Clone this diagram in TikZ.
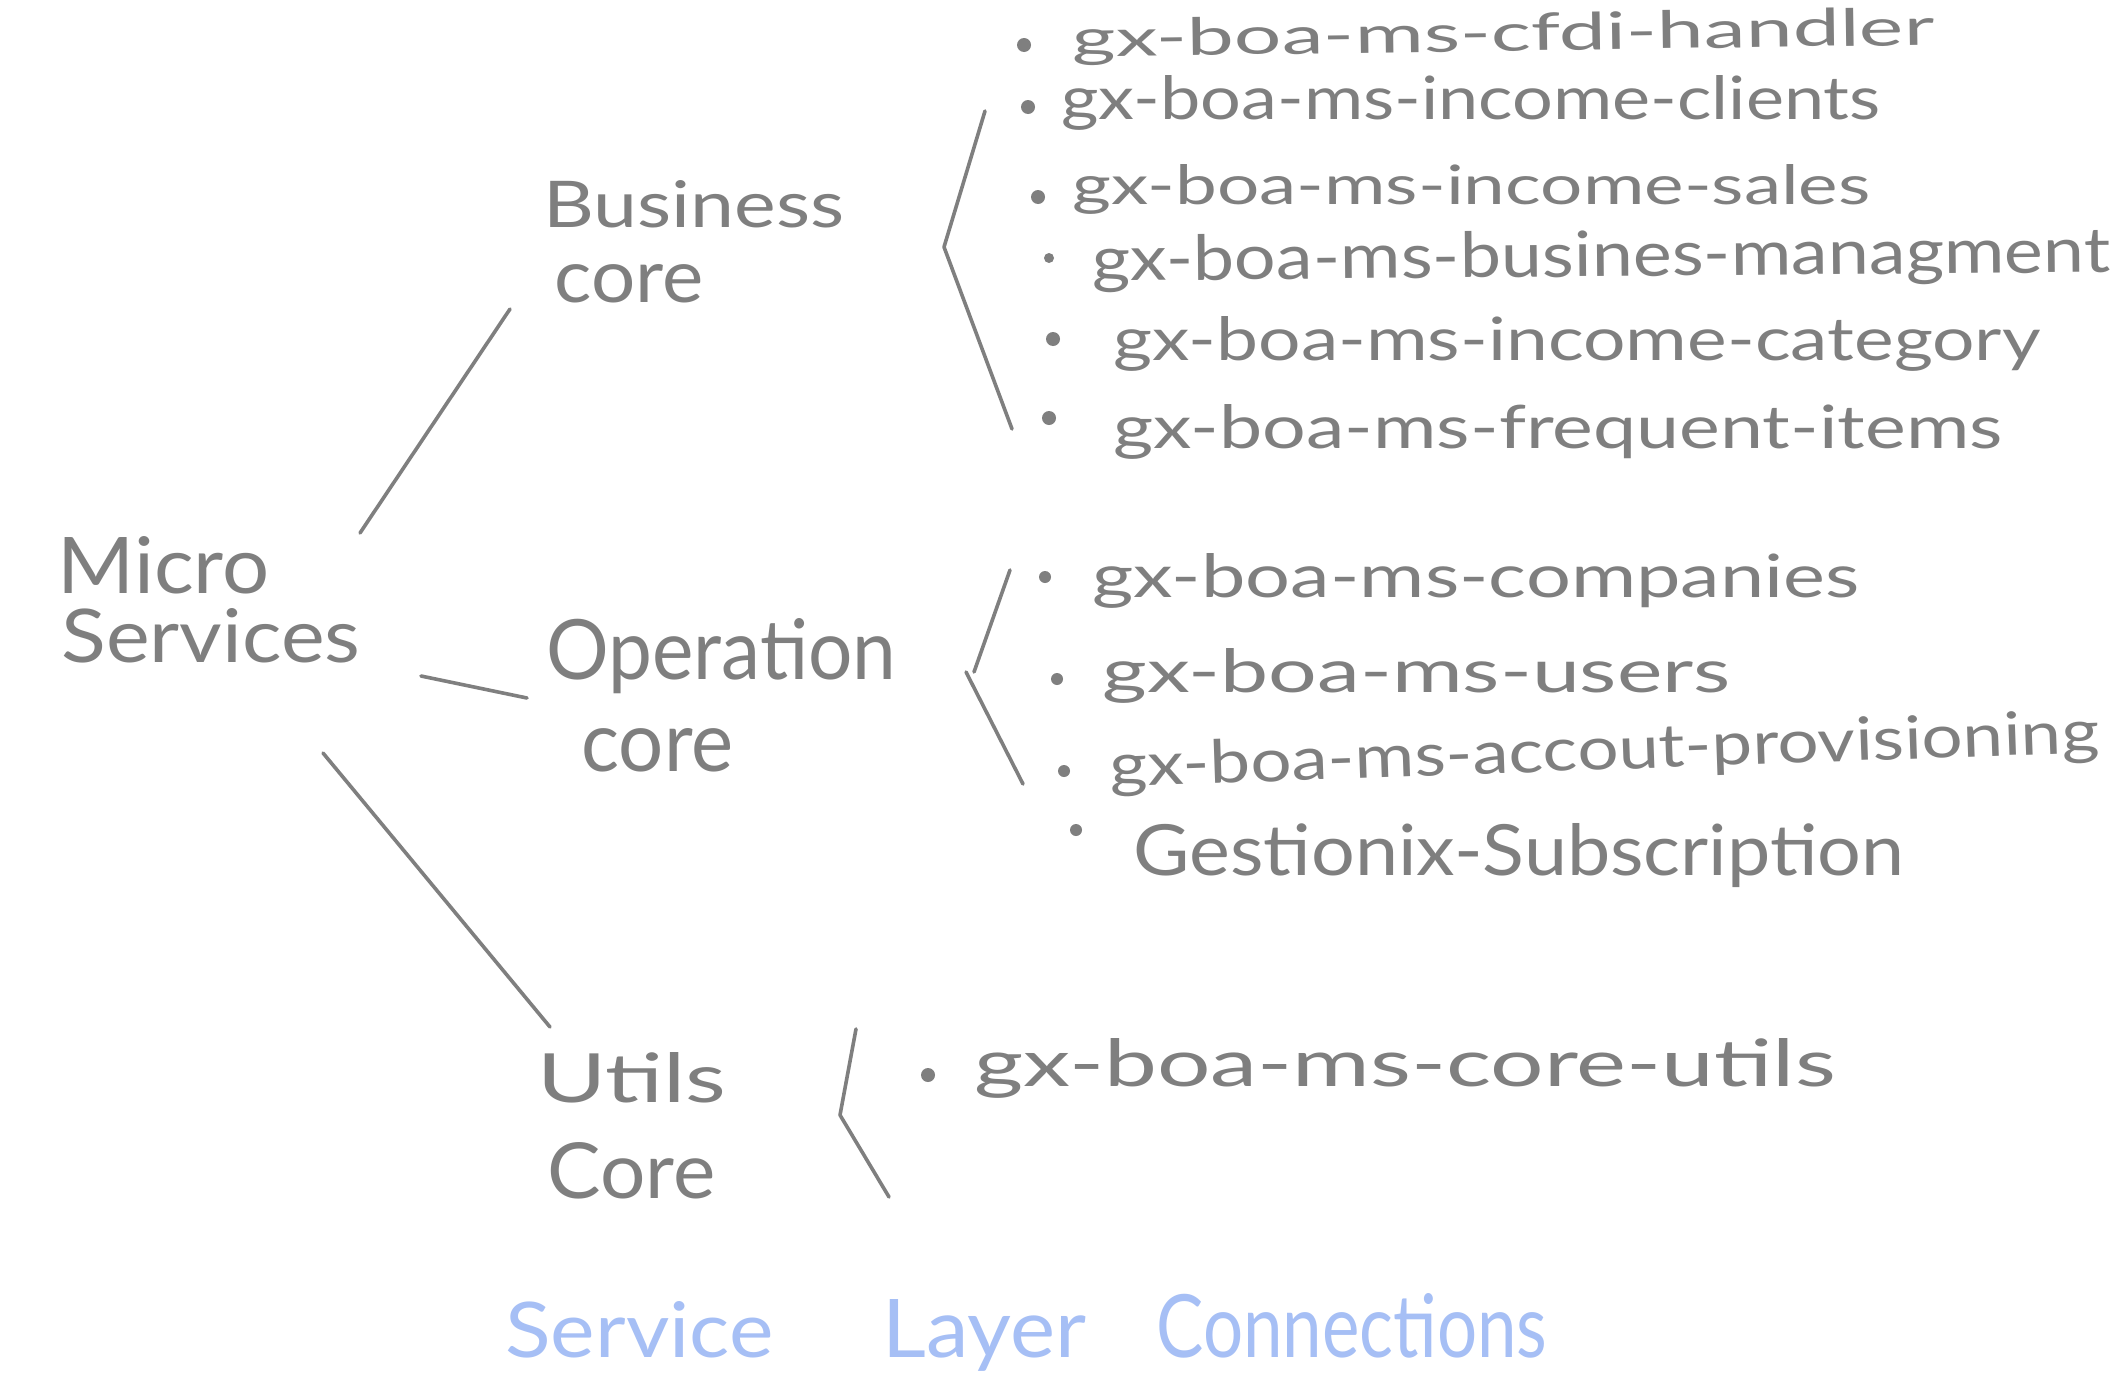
\documentclass[tikz,border=0pt]{standalone}
\usepackage{fontspec}
\setmainfont{Lato}
\usepackage{graphicx}
\newdimen\pxu \pxu=0.5pt
\newcommand\fitto[3]{\resizebox{#1\pxu}{#2\pxu}{#3}}
\definecolor{ink}{HTML}{7F7F7F}
\definecolor{blueink}{HTML}{A6BFF5}
\begin{document}
\begin{tikzpicture}[x=0.5pt,y=-0.5pt,
  inkline/.style={draw=ink, line width=1.8pt, line cap=round, line join=round},
  grp/.style={inner sep=0pt, anchor=north west, align=left, text=ink},
  item/.style={inner sep=0pt, anchor=base west, text=ink, font=\fontsize{20pt}{24pt}\selectfont},
  bulletdot/.style={circle, fill=ink, inner sep=0pt, minimum size=7pt}]
\useasboundingbox[fill=white] (0,0) rectangle (2128,1376);

% group labels
\node[grp, font=\fontsize{20pt}{34.5pt}\selectfont] (ms) at (57,536)
  {\fitto{212}{57}{Micro}\\\hspace*{4\pxu}\fitto{299}{54}{Services}};
\node[grp, font=\fontsize{20pt}{37.5pt}\selectfont] (bc) at (543,180)
  {\fitto{301}{47}{Business}\\\hspace*{11\pxu}\fitto{149}{38}{core}};
\node[grp, font=\fontsize{20pt}{46pt}\selectfont] (oc) at (546,618)
  {\fitto{350}{61}{Operation}\\\hspace*{35\pxu}\fitto{152}{43}{core}};
\node[grp, font=\fontsize{20pt}{48pt}\selectfont] (uc) at (537,1052)
  {\fitto{189}{50}{Utils}\\\hspace*{10\pxu}\fitto{168}{56}{Core}};

% connector end points
\coordinate (msB) at (360,533);
\coordinate (bcIn) at (510,309);
\coordinate (msO) at (421,676);
\coordinate (ocIn) at (527,698);
\coordinate (msU) at (323,753);
\coordinate (ucIn) at (550,1027);
\draw[inkline] (msB) -- (bcIn);
\draw[inkline] (msO) -- (ocIn);
\draw[inkline] (msU) -- (ucIn);

% brackets
\coordinate (bbT) at (985,111);
\coordinate (bbM) at (944,247);
\coordinate (bbB) at (1012,429);
\draw[inkline] (bbT) -- (bbM) -- (bbB);
\coordinate (obT) at (1010,570);
\coordinate (obM) at (974,672);
\coordinate (obM2) at (966,672);
\coordinate (obB) at (1023,784);
\draw[inkline] (obT) -- (obM);
\draw[inkline] (obM2) -- (obB);
\coordinate (ubT) at (856,1029);
\coordinate (ubM) at (840,1115);
\coordinate (ubB) at (889,1197);
\draw[inkline] (ubT) -- (ubM) -- (ubB);

% business items
\node[bulletdot] (d1) at (1024,45) {};
\node[item, rotate=0.8] (i1) at (1072,57) {\fitto{862}{38}{gx-boa-ms-cfdi-handler}};
\node[bulletdot] (d2) at (1028,107) {};
\node[item] (i2) at (1061,119) {\fitto{819}{44}{gx-boa-ms-income-clients}};
\node[bulletdot] (d3) at (1038,197) {};
\node[item] (i3) at (1072,204) {\fitto{798}{40}{gx-boa-ms-income-sales}};
\node[bulletdot, minimum size=5pt] (d4) at (1049,258) {};
\node[item, rotate=0.5] (i4) at (1092,281) {\fitto{1018}{46}{gx-boa-ms-busines-managment}};
\node[bulletdot] (d5) at (1053,339) {};
\node[item] (i5) at (1113,360) {\fitto{927}{44}{gx-boa-ms-income-category}};
\node[bulletdot] (d6) at (1049,418) {};
\node[item] (i6) at (1113,448) {\fitto{889}{44}{gx-boa-ms-frequent-items}};

% operation items
\node[bulletdot, minimum size=6pt] (d7) at (1045,577) {};
\node[item] (i7) at (1092,597) {\fitto{767}{44}{gx-boa-ms-companies}};
\node[bulletdot, minimum size=6pt] (d8) at (1057,679) {};
\node[item] (i8) at (1102,692) {\fitto{628}{44}{gx-boa-ms-users}};
\node[bulletdot, minimum size=6pt] (d9) at (1064,771) {};
\node[item, rotate=2] (i9) at (1110,787) {\fitto{990}{44}{gx-boa-ms-accout-provisioning}};
\node[bulletdot, minimum size=6pt] (d10) at (1076,830) {};
\node[item] (i10) at (1133,875) {\fitto{771}{52}{Gestionix-Subscription}};

% utils item
\node[bulletdot] (d11) at (928,1075) {};
\node[item] (i11) at (974,1086) {\fitto{861}{48}{gx-boa-ms-core-utils}};

% title
\node[item, text=blueink] (title) at (505,1357)
  {\fitto{268}{56}{Service}\hspace*{109\pxu}\fitto{204}{58}{Layer}\hspace*{70\pxu}\fitto{391}{64}{Connections}};
\end{tikzpicture}
\end{document}
